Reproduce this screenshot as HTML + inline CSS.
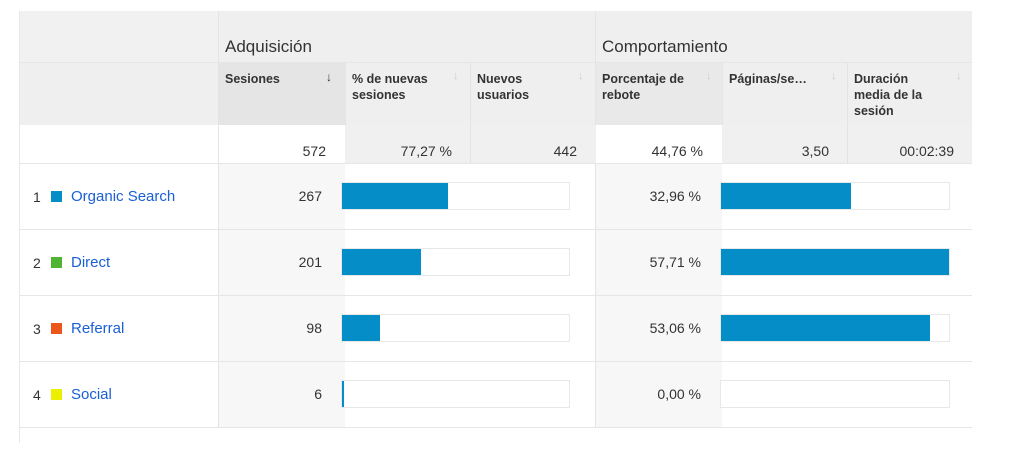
<!DOCTYPE html>
<html><head><meta charset="utf-8"><style>
body{margin:0;width:1024px;height:453px;background:#fff;position:relative;overflow:hidden;font-family:"Liberation Sans",sans-serif;color:#333}
div{position:absolute;box-sizing:border-box}
.t{font-size:14px}
.h{font-size:12.5px;font-weight:bold;line-height:16px;color:#333}
.g{font-size:17px;color:#333}
.ar{font-size:11px;color:#ccc}
.r{text-align:right}
.lk{color:#1a5fd6;font-size:15px}
.bar{border:1px solid #e8e8e8;background:#fff;height:28px}
.fill{background:#058dc7;height:26px;top:0;left:0}
.hl{height:1px;background:#e6e6e6;left:20px;width:952px}
.vl{width:1px;background:#e4e4e4}
</style></head><body>
<div style="left:19px;top:11px;width:1px;height:432px;background:#e8e8e8"></div>
<div style="left:20px;top:11px;width:952px;height:114px;background:#efefef"></div>
<div style="left:20px;top:11px;width:198px;height:52px;background:#f1f1f1"></div>
<div style="left:218px;top:63px;width:127px;height:62px;background:#e5e5e5"></div>
<div style="left:596px;top:63px;width:126px;height:62px;background:#e9e9e9"></div>
<div style="left:20px;top:62px;width:952px;height:1px;background:#e6e6e6"></div>
<div class="vl" style="left:218px;top:11px;height:416px"></div>
<div class="vl" style="left:595px;top:11px;height:416px"></div>
<div class="vl" style="left:345px;top:63px;height:100px"></div>
<div class="vl" style="left:470px;top:63px;height:100px"></div>
<div class="vl" style="left:722px;top:63px;height:100px"></div>
<div class="vl" style="left:847px;top:63px;height:100px"></div>
<div class="g" style="left:225px;top:37px">Adquisición</div>
<div class="g" style="left:602px;top:37px">Comportamiento</div>
<div class="h" style="left:225px;top:71px">Sesiones</div><div style="left:326px;top:70px;font-size:12px;color:#333">↓</div>
<div class="h" style="left:352px;top:71px">% de nuevas<br>sesiones</div><div class="ar" style="left:453px;top:70px">↓</div>
<div class="h" style="left:477px;top:71px">Nuevos<br>usuarios</div><div class="ar" style="left:578px;top:70px">↓</div>
<div class="h" style="left:602px;top:71px">Porcentaje de<br>rebote</div><div class="ar" style="left:706px;top:70px">↓</div>
<div class="h" style="left:729px;top:71px">Páginas/se…</div><div class="ar" style="left:831px;top:70px">↓</div>
<div class="h" style="left:854px;top:71px">Duración<br>media de la<br>sesión</div><div class="ar" style="left:956px;top:70px">↓</div>
<div style="left:345px;top:125px;width:251px;height:38px;background:#f0f0f0"></div>
<div style="left:722px;top:125px;width:250px;height:38px;background:#f0f0f0"></div>
<div class="vl" style="left:470px;top:125px;height:38px;background:#e2e2e2"></div>
<div class="vl" style="left:847px;top:125px;height:38px;background:#e2e2e2"></div>
<div class="t r" style="left:218px;width:108px;top:143px">572</div>
<div class="t r" style="left:345px;width:107px;top:143px">77,27 %</div>
<div class="t r" style="left:470px;width:107px;top:143px">442</div>
<div class="t r" style="left:596px;width:107px;top:143px">44,76 %</div>
<div class="t r" style="left:722px;width:107px;top:143px">3,50</div>
<div class="t r" style="left:847px;width:107px;top:143px">00:02:39</div>
<div class="hl" style="top:163px"></div>
<div style="left:219px;top:164px;width:126px;height:263px;background:#f7f7f7"></div>
<div style="left:596px;top:164px;width:126px;height:263px;background:#f7f7f7"></div>
<div class="hl" style="top:229px"></div><div class="hl" style="top:295px"></div><div class="hl" style="top:361px"></div><div class="hl" style="top:427px"></div>
<div class="t" style="left:33px;top:189px">1</div><div style="left:51px;top:191px;width:11px;height:11px;background:#058dc7"></div><div class="lk" style="left:71px;top:188px">Organic Search</div>
<div class="t r" style="left:218px;width:104px;top:188px">267</div>
<div class="bar" style="left:341px;top:182px;width:229px"><div class="fill" style="width:106px"></div></div>
<div class="t r" style="left:596px;width:105px;top:188px">32,96 %</div>
<div class="bar" style="left:720px;top:182px;width:230px"><div class="fill" style="width:130px"></div></div>
<div class="t" style="left:33px;top:255px">2</div><div style="left:51px;top:257px;width:11px;height:11px;background:#50b432"></div><div class="lk" style="left:71px;top:254px">Direct</div>
<div class="t r" style="left:218px;width:104px;top:254px">201</div>
<div class="bar" style="left:341px;top:248px;width:229px"><div class="fill" style="width:79px"></div></div>
<div class="t r" style="left:596px;width:105px;top:254px">57,71 %</div>
<div class="bar" style="left:720px;top:248px;width:230px"><div class="fill" style="width:228px"></div></div>
<div class="t" style="left:33px;top:321px">3</div><div style="left:51px;top:323px;width:11px;height:11px;background:#ed561b"></div><div class="lk" style="left:71px;top:320px">Referral</div>
<div class="t r" style="left:218px;width:104px;top:320px">98</div>
<div class="bar" style="left:341px;top:314px;width:229px"><div class="fill" style="width:38px"></div></div>
<div class="t r" style="left:596px;width:105px;top:320px">53,06 %</div>
<div class="bar" style="left:720px;top:314px;width:230px"><div class="fill" style="width:209px"></div></div>
<div class="t" style="left:33px;top:387px">4</div><div style="left:51px;top:389px;width:11px;height:11px;background:#edef00"></div><div class="lk" style="left:71px;top:386px">Social</div>
<div class="t r" style="left:218px;width:104px;top:386px">6</div>
<div class="bar" style="left:341px;top:380px;width:229px"><div class="fill" style="width:2px"></div></div>
<div class="t r" style="left:596px;width:105px;top:386px">0,00 %</div>
<div class="bar" style="left:720px;top:380px;width:230px"></div>
</body></html>
